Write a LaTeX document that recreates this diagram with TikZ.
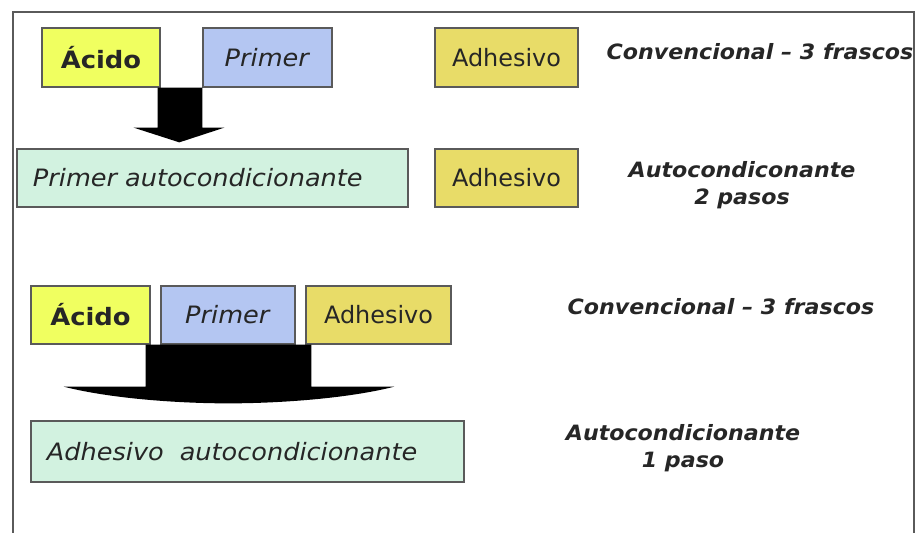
\documentclass[tikz,border=0pt]{standalone}
\usepackage{fontspec}
\setmainfont{DejaVu Sans}[ItalicFeatures={FakeStretch=1.07},
  BoldFeatures={FakeStretch=1.08}, BoldItalicFeatures={FakeStretch=1.05}]
\usetikzlibrary{calc}

\definecolor{acidofill}{HTML}{F0FF60}
\definecolor{primerfill}{HTML}{B4C6F2}
\definecolor{adhfill}{HTML}{E8DC68}
\definecolor{autofill}{HTML}{D2F2E0}
\definecolor{bordecaja}{HTML}{5A5A5A}

\tikzset{
  caja/.style={draw=bordecaja, line width=0.9pt, inner sep=0pt,
    minimum height=1.475cm, text=black!85,
    font=\fontsize{17}{20}\selectfont},
  cajalarga/.style={caja, inner xsep=0.4cm, align=left},
  etiqueta/.style={align=center, text=black!85,
    font=\fontsize{15}{19}\selectfont\bfseries\itshape},
}

\begin{document}
\begin{tikzpicture}[x=0.025cm,y=-0.025cm]
\useasboundingbox (0,0) rectangle (916,533);
\draw[bordecaja, line width=1.2pt] (13,533) -- (13,12) -- (914,12) -- (914,533);

% convencional / 2 pasos
\node[caja, fill=acidofill, minimum width=2.95cm] (acidoA) at (101,57.5) {\textbf{Ácido}};
\node[caja, fill=primerfill, minimum width=3.225cm] (primerA) at (267.5,57.5) {\textit{Primer}};
\node[caja, fill=adhfill, minimum width=3.575cm] (adhA) at (506.5,57.5) {Adhesivo};
\node[etiqueta] (convA) at (760,52) {Convencional -- 3 frascos};

\node[cajalarga, fill=autofill, text width=8.975cm, minimum height=1.45cm] (autoA) at (212.5,178) {\textit{Primer autocondicionante}};
\node[caja, fill=adhfill, minimum width=3.575cm, minimum height=1.45cm] (adhB) at (506.5,178) {Adhesivo};
\node[etiqueta] (dosA) at (742,185) {Autocondiconante\\2 pasos};

\fill[black] ($(acidoA.south east)+(-3,0)$) -- (primerA.south west) -- ($(primerA.south west)+(0,40)$)
  -- ($(primerA.south west)+(22,40)$) -- ($(autoA.north west)+(163,-6)$)
  -- ($(acidoA.south east)+(-27,40)$) -- ($(acidoA.south east)+(-3,40)$) -- cycle;

% convencional / 1 paso
\node[caja, fill=acidofill, minimum width=2.975cm, minimum height=1.45cm] (acidoB) at (90.5,315) {\textbf{Ácido}};
\node[caja, fill=primerfill, minimum width=3.35cm, minimum height=1.45cm] (primerB) at (228,315) {\textit{Primer}};
\node[caja, fill=adhfill, minimum width=3.625cm, minimum height=1.45cm] (adhC) at (378.5,315) {Adhesivo};
\node[etiqueta] (convB) at (721,307) {Convencional -- 3 frascos};

\node[cajalarga, fill=autofill, text width=10.025cm, minimum height=1.525cm] (autoB) at (247.5,451.5) {\textit{Adhesivo\ \ autocondicionante}};
\node[etiqueta] (unoB) at (683,448) {Autocondicionante\\1 paso};

\fill[black] ($(acidoB.south east)+(-5,0)$) -- ($(adhC.south west)+(6,0)$)
  -- ($(adhC.south west)+(6,42)$) -- ($(adhC.south west)+(89,42)$)
  .. controls ($(adhC.south west)+(42,54)$) and ($(autoB.north west)+(248,-17)$) .. ($(autoB.north west)+(198,-17)$)
  .. controls ($(autoB.north west)+(148,-17)$) and ($(acidoB.south east)+(-40,54)$) .. ($(acidoB.south east)+(-87,42)$)
  -- ($(acidoB.south east)+(-5,42)$) -- cycle;
\end{tikzpicture}
\end{document}
